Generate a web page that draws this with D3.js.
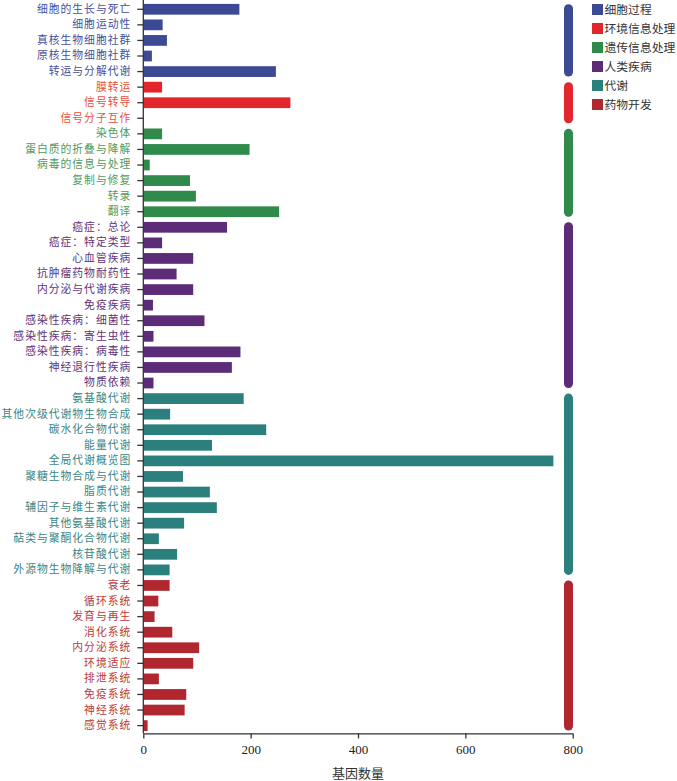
<!DOCTYPE html>
<html>
<head>
<meta charset="utf-8">
<script src="https://cdn.jsdelivr.net/npm/d3@7"></script>
<style>
  body { margin: 0; background: #fff; }
  svg { display: block; }
</style>
</head>
<body>
<div id="chart"></div>
<script>
const groups = ['细胞过程', '环境信息处理', '遗传信息处理', '人类疾病', '代谢', '药物开发']
const barColors = ['#3c4a93', '#e2262b', '#2f8a4b', '#5d2c78', '#2b7f7c', '#b0272f']
const textColors = ['#45519a', '#e8503c', '#4f9a5e', '#5e3379', '#3b8584', '#b93b38']

const categories = [
  '细胞的生长与死亡', '细胞运动性', '真核生物细胞社群', '原核生物细胞社群', '转运与分解代谢',
  '膜转运', '信号转导', '信号分子互作',
  '染色体', '蛋白质的折叠与降解', '病毒的信息与处理', '复制与修复', '转录', '翻译',
  '癌症：总论', '癌症：特定类型', '心血管疾病', '抗肿瘤药物耐药性', '内分泌与代谢疾病', '免疫疾病',
  '感染性疾病：细菌性', '感染性疾病：寄生虫性', '感染性疾病：病毒性', '神经退行性疾病', '物质依赖',
  '氨基酸代谢', '其他次级代谢物生物合成', '碳水化合物代谢', '能量代谢', '全局代谢概览图',
  '聚糖生物合成与代谢', '脂质代谢', '辅因子与维生素代谢', '其他氨基酸代谢', '萜类与聚酮化合物代谢',
  '核苷酸代谢', '外源物生物降解与代谢',
  '衰老', '循环系统', '发育与再生', '消化系统', '内分泌系统', '环境适应', '排泄系统',
  '免疫系统', '神经系统', '感觉系统'
]
// group index of each category
const categoryGroups = [
  0, 0, 0, 0, 0,
  1, 1, 1,
  2, 2, 2, 2, 2, 2,
  3, 3, 3, 3, 3, 3, 3, 3, 3, 3, 3,
  4, 4, 4, 4, 4, 4, 4, 4, 4, 4, 4, 4,
  5, 5, 5, 5, 5, 5, 5, 5, 5, 5
]
const geneCounts = [
  179, 36, 44, 16, 247,
  35, 274, 0,
  35, 198, 12, 87, 98, 253,
  156, 35, 93, 62, 93, 18, 114, 19, 181, 165, 19,
  187, 50, 229, 128, 764, 74, 124, 137, 76, 29, 63, 49,
  49, 28, 21, 54, 104, 93, 29, 80, 77, 8
]
const xTicks = [0, 200, 400, 600, 800]

const width = 677
const height = 781

const svg = d3.select('#chart')
  .append('svg')
  .attr('width', width)
  .attr('height', height)

const x = d3.scaleLinear()
  .domain([0, 800])
  .range([143.3, 572.7])

const y = d3.scaleBand()
  .domain(categories)
  .range([1.5, 733.4])
  .paddingInner(0.31)
  .paddingOuter(0.155)

const rows = categories.map((c, i) => ({ name: c, value: geneCounts[i], group: categoryGroups[i] }))

// bars
svg.append('g')
  .selectAll('rect')
  .data(rows)
  .enter()
  .append('rect')
  .attr('x', x(0))
  .attr('y', d => y(d.name))
  .attr('width', d => x(d.value) - x(0))
  .attr('height', y.bandwidth())
  .attr('fill', d => barColors[d.group])

// y axis
const yAxis = svg.append('g')
  .attr('transform', `translate(${x(0)},0)`)
  .call(d3.axisLeft(y).tickSize(6).tickPadding(6).tickSizeOuter(0))

yAxis.select('.domain')
  .attr('d', `M0,0V${y.range()[1]}`)
  .attr('stroke', '#333')
  .attr('stroke-width', 1.3)
yAxis.selectAll('.tick line').attr('stroke', '#333').attr('stroke-width', 1.3)
yAxis.selectAll('.tick text')
  .attr('fill', (d, i) => textColors[categoryGroups[i]])
  .style('font-family', '"Noto Sans CJK SC", sans-serif')
  .style('font-size', '10.8px')
  .style('letter-spacing', '1px')

// x axis
const xAxis = svg.append('g')
  .attr('transform', `translate(0,${y.range()[1]})`)
  .call(d3.axisBottom(x).tickValues(xTicks).tickSize(5).tickPadding(6).tickSizeOuter(0))

xAxis.select('.domain').attr('stroke', '#333').attr('stroke-width', 1.3)
xAxis.selectAll('.tick line').attr('stroke', '#333').attr('stroke-width', 1.3)
xAxis.selectAll('.tick text')
  .attr('fill', '#222')
  .style('font-family', '"Liberation Serif", serif')
  .style('font-size', '13px')

svg.append('text')
  .attr('x', (x(0) + x(800)) / 2)
  .attr('y', 778)
  .attr('text-anchor', 'middle')
  .attr('fill', '#333')
  .style('font-family', '"Noto Sans CJK SC", sans-serif')
  .style('font-size', '13px')
  .text('基因数量')

// group brackets on the right
const spans = groups.map((g, gi) => {
  const members = rows.filter(r => r.group === gi)
  const first = y(members[0].name) + y.bandwidth() / 2
  const last = y(members[members.length - 1].name) + y.bandwidth() / 2
  return { group: gi, y0: first - 5, y1: last + 5 }
})

svg.append('g')
  .selectAll('line')
  .data(spans)
  .enter()
  .append('line')
  .attr('x1', 568.5)
  .attr('x2', 568.5)
  .attr('y1', d => d.y0 + 4.5)
  .attr('y2', d => d.y1 - 4.5)
  .attr('stroke', d => barColors[d.group])
  .attr('stroke-width', 9)
  .attr('stroke-linecap', 'round')

// legend
const legend = svg.append('g')
  .selectAll('g')
  .data(groups)
  .enter()
  .append('g')
  .attr('transform', (d, i) => `translate(592,${9.5 + i * 19})`)

legend.append('rect')
  .attr('x', 0)
  .attr('y', -5.5)
  .attr('width', 11)
  .attr('height', 11)
  .attr('fill', (d, i) => barColors[i])

legend.append('text')
  .attr('x', 12.5)
  .attr('y', 0)
  .attr('dy', '0.36em')
  .attr('fill', '#333')
  .style('font-family', '"Noto Sans CJK SC", sans-serif')
  .style('font-size', '11.8px')
  .text(d => d)
</script>
</body>
</html>
